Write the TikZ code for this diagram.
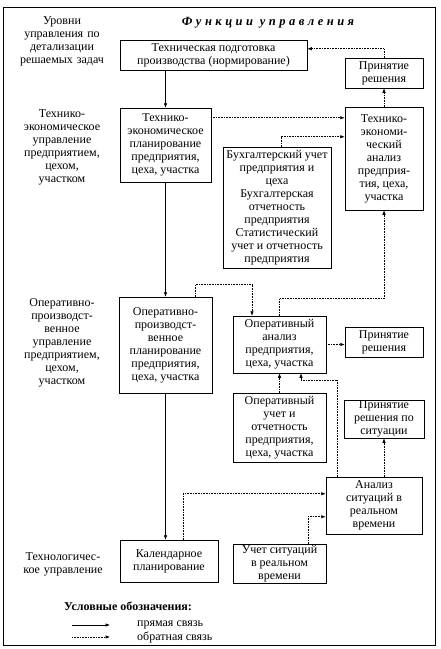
\documentclass[tikz,border=0pt]{standalone}
\usepackage{fontspec}
\setmainfont{Liberation Serif}
\usetikzlibrary{arrows.meta,calc}
\begin{document}
\begin{tikzpicture}[x=1pt,y=-1pt,
  every node/.style={font=\fontsize{12}{13}\selectfont, align=center, inner sep=0pt},
  box/.style={draw, line width=0.5pt, minimum width=#1},
  fw/.style={line width=0.6pt, -{Latex[length=4.5pt,width=3.5pt]}},
  fb/.style={line width=0.6pt, densely dotted, -{Latex[length=4.5pt,width=3.5pt]}},
  lvl/.style={text width=104pt}
]
\useasboundingbox (0,0) rectangle (440,649);
\draw[line width=0.8pt] (3,7) rectangle (435,645);

\node (hdr) at (268,23) {\fontsize{12.5}{13}\selectfont\bfseries\itshape\addfontfeature{LetterSpace=28}Функции управления};

\node[lvl] (l0) at (62,41.5) {Уровни\\управления по\\детализации\\решаемых задач};
\node[lvl] (l1) at (62,147.5) {Технико-\\экономическое\\управление\\предприятием,\\цехом,\\участком};
\node[lvl] (l2) at (62,342.5) {Оперативно-\\производст-\\венное\\управление\\предприятием,\\цехом,\\участком};
\node[lvl] (l3) at (63,564) {Технологичес-\\кое управление};

\node[box=187pt, minimum height=30pt] (b1) at (213.5,55) {Техническая подготовка\\производства (нормирование)};
\node[box=78pt, minimum height=30pt] (pr1) at (384,73) {Принятие\\решения};
\node[box=91pt, minimum height=74pt] (b2) at (165.5,145) {Технико-\\экономическое\\планирование\\предприятия,\\цеха, участка};
\node[box=78pt, minimum height=103pt] (ta) at (384,158.5) {Технико-\\экономи-\\ческий\\анализ\\предприя-\\тия, цеха,\\участка};
\node[box=108pt, minimum height=121pt] (bu) at (277,207.5) {Бухгалтерский учет\\предприятия и\\цеха\\Бухгалтерская\\отчетность\\предприятия\\Статистический\\учет и отчетность\\предприятия};
\node[box=93pt, minimum height=96pt] (b3) at (165.5,345) {Оперативно-\\производст-\\венное\\планирование\\предприятия,\\цеха, участка};
\node[box=93pt, minimum height=57pt] (oa) at (279.5,344.5) {Оперативный\\анализ\\предприятия,\\цеха, участка};
\node[box=78pt, minimum height=30pt] (pr2) at (384,342) {Принятие\\решения};
\node[box=93pt, minimum height=69pt] (ou) at (279.5,427.5) {Оперативный\\учет и\\отчетность\\предприятия,\\цеха, участка};
\node[box=80pt, minimum height=38pt] (prs) at (384,419) {Принятие\\решения по\\ситуации};
\node[box=96pt, minimum height=57pt] (as) at (374,505.5) {Анализ\\ситуаций в\\реальном\\времени};
\node[box=93pt, minimum height=39pt] (us) at (279.5,563.5) {Учет ситуаций\\в реальном\\времени};
\node[box=98pt, minimum height=42pt] (kp) at (169,561) {Календарное\\планирование};

% direct links
\draw[fw] (b1.south -| b2.north) -- (b2.north);
\draw[fw] (b2.south) -- (b3.north);
\draw[fw] (b3.south) -- (b3.south |- kp.north);

% feedback links
\draw[fb] (pr1.north) |- ($(b1.north east)+(0,9)$);
\draw[fb] (ta.north) -- (pr1.south);
\draw[fb] ($(b2.north east)+(0,10)$) -- ($(ta.north west)+(0,11)$);
\draw[fb] ($(bu.north)+(4,0)$) |- ($(ta.north west)+(0,30)$);
\draw[fb] (oa.north) -- ++(0,-17) -| (ta.south);
\draw[fb] ($(b3.north)+(29.5,0)$) -- ++(0,-12) -| ($(oa.north)+(-27.5,0)$);
\draw[fb] (oa.east) -- (oa.east -| pr2.west);
\draw[fb] (ou.north) -- (oa.south);
\draw[fb] ($(as.north)+(-37,0)$) -- ++(0,-96) -| ($(oa.south)+(21.5,0)$);
\draw[fb] (prs.south |- as.north) -- (prs.south);
\draw[fb] ($(kp.north)+(14,0)$) |- ($(as.north west)+(0,17)$);
\draw[fb] ($(us.north)+(28.5,0)$) |- ($(as.north west)+(0,40)$);

% legend
\node (lg) at (128,606) {\bfseries Условные обозначения:};
\coordinate (s1) at (72,625);
\coordinate (e1) at (110,625);
\coordinate (s2) at (72,637);
\coordinate (e2) at (110,637);
\draw[fw] (s1) -- (e1);
\draw[fb] (s2) -- (e2);
\node[anchor=west] (t1) at (137,625) {прямая связь};
\node[anchor=west] (t2) at (137,637) {обратная связь};
\end{tikzpicture}
\end{document}
